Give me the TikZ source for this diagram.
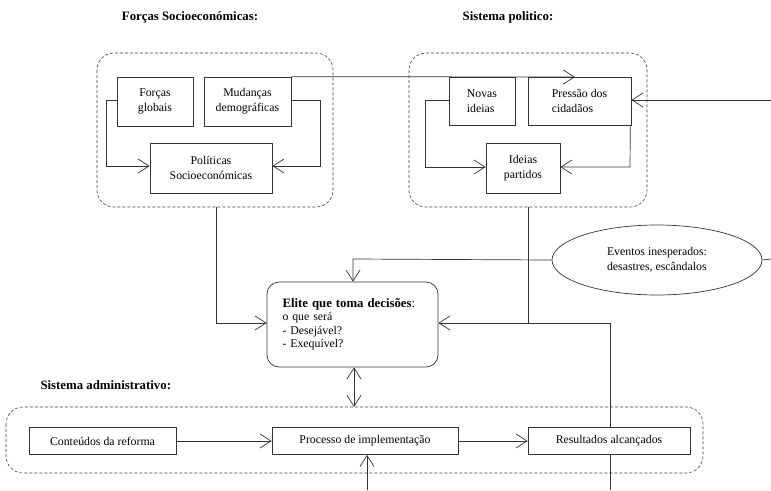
\documentclass[tikz,border=0pt]{standalone}
\usepackage{fontspec}
\setmainfont{Liberation Serif}
\usetikzlibrary{arrows.meta,shapes.geometric}
\begin{document}
\begin{tikzpicture}[x=1pt,y=-1pt,
  ln/.style={draw=black!80,line width=0.7pt},
  arr/.style={ln,-{Straight Barb[length=11pt,width=14pt,line width=0.7pt]}},
  darr/.style={ln,{Straight Barb[length=11pt,width=14pt,line width=0.7pt]}-{Straight Barb[length=11pt,width=14pt,line width=0.7pt]}},
  bx/.style={ln,fill=white,inner sep=0pt,align=center,font=\fontsize{11.8}{15}\selectfont},
  grp/.style={draw=black!75,line width=0.6pt,dash pattern=on 3pt off 2pt,rounded corners=17pt},
  ttl/.style={font=\fontsize{12.8}{15}\selectfont\bfseries}
]
\useasboundingbox[fill=white] (0,0) rectangle (771,490);

% titles
\node[ttl] (t1) at (190,17) {Forças Socioeconómicas:};
\node[ttl] (t2) at (508,17) {Sistema politico:};
\node[ttl,anchor=west] (t3) at (37,385) {Sistema administrativo:};

% dashed groups
\draw[grp] (97,53) rectangle (333,207);
\draw[grp] (409,53) rectangle (647,207);
\draw[grp] (6,407) rectangle (703,473);
\coordinate (g1s) at (216,207);
\coordinate (g2s) at (528,207);
\coordinate (g3n) at (354,407);

% socio-economic boxes
\node[bx,minimum width=76pt,minimum height=49pt] (fg) at (155,101.5) {Forças\\globais};
\node[bx,minimum width=87pt,minimum height=49pt] (md) at (247.5,101.5) {Mudanças\\demográficas};
\node[bx,minimum width=122pt,minimum height=50pt] (ps) at (211,168) {Políticas\\Socioeconómicas};

% political boxes
\node[bx,minimum width=66pt,minimum height=48pt,align=left] (ni) at (482,101) {Novas\\ideias};
\node[bx,minimum width=103pt,minimum height=48pt,align=left] (pc) at (579.5,101) {Pressão dos\\cidadãos};
\node[bx,minimum width=74pt,minimum height=50pt] (ip) at (523,168) {Ideias\\partidos};

% elite
\node[bx,rounded corners=12pt,minimum width=171pt,minimum height=85pt,align=left,text width=140pt] (el) at (352.5,324.5)
  {{\fontsize{12.8}{15}\selectfont\textbf{Elite que toma decisões}:}\\[-1.5pt]o que será\\[-1.5pt]- Desejável?\\[-1.5pt]- Exequível?};

% ellipse
\node[ellipse,bx,minimum width=210pt,minimum height=70pt,align=left] (ev) at (657,260) {Eventos inesperados:\\desastres, escândalos};

% administrative boxes
\node[bx,minimum width=147pt,minimum height=27pt] (cr) at (102.5,441) {Conteúdos da reforma};
\node[bx,minimum width=186pt,minimum height=27pt] (pi) at (365,441) {Processo de implementação};
\node[bx,minimum width=162pt,minimum height=27pt] (ra) at (609,441) {Resultados alcançados};

% edge coordinates
\coordinate (eR) at (771,100);
\coordinate (eE) at (771,259);
\coordinate (eB1) at (367,490);
\coordinate (eB2) at (610,490);

% loops in socio-economic group
\draw[arr] (fg.west |- 0,100) -- (106,100) -- (106,166) -- (ps.west |- 0,166);
\draw[arr] (md.east |- 0,100) -- (320,100) -- (320,166) -- (ps.east |- 0,166);
% link to political system
\draw[arr] (md.north east) -- (575,77);
% loops in political group
\draw[arr] (ni.west |- 0,100) -- (425,100) -- (425,167) -- (ip.west |- 0,167);
\draw[arr] (pc.south east) ++(-1,0) -- (630,167) -- (ip.east |- 0,167);
\draw[arr] (eR) -- (pc.east |- eR);

% to the elite
\draw[arr] (g1s) -- (216,323) -- (el.west |- 0,323);
\draw[arr] (ev.west) -- (353,259) -- (el.north -| 353,0);
\draw[ln] (g2s) -- (528,323);
\draw[arr] (ra.north -| 610,0) -- (610,323) -- (el.east |- 0,323);
\draw[ln] (ev.east) -- (eE);

% administrative system
\draw[darr] (el.south -| g3n) -- (g3n);
\draw[arr] (cr) -- (pi);
\draw[arr] (pi) -- (ra);
\draw[arr] (eB1) -- (pi.south -| eB1);
\draw[ln] (ra.south -| eB2) -- (eB2);
\end{tikzpicture}
\end{document}
